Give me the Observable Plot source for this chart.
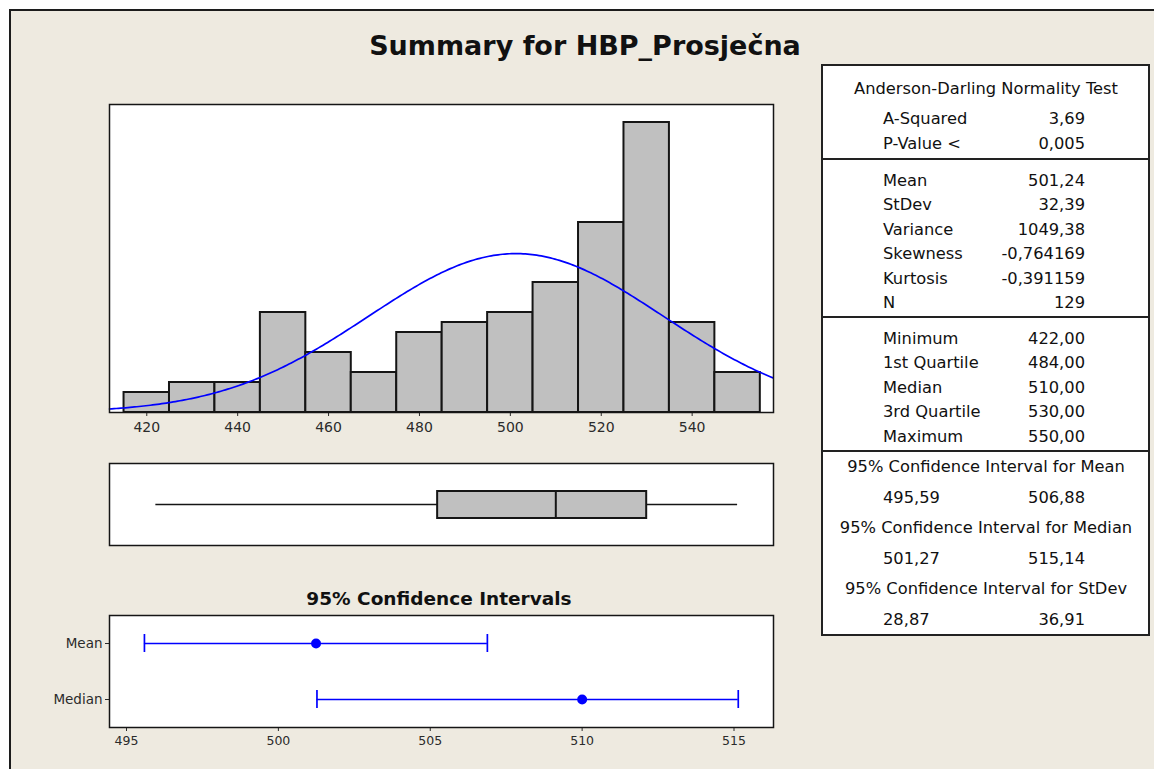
<!DOCTYPE html>
<html>
<head>
<meta charset="utf-8">
<script src="https://cdn.jsdelivr.net/npm/d3@7"></script>
<script src="https://cdn.jsdelivr.net/npm/@observablehq/plot@0.6"></script>
<style>
  body { margin: 0; background: #ffffff; }
  #root { position: relative; width: 1154px; height: 769px; overflow: hidden; background: #ffffff;
          font-family: "DejaVu Sans", Verdana, sans-serif; color: #111; }
  #panel { position: absolute; left: 9px; top: 9px; width: 1145px; height: 760px; box-sizing: border-box;
           background: #EEEAE0; border-left: 2px solid #1c1c1c; border-top: 2px solid #1c1c1c; }
  .txt { position: absolute; white-space: nowrap; line-height: 1; }
  #table { position: absolute; left: 821px; top: 64px; width: 329px; height: 572px; box-sizing: border-box;
           background: #ffffff; border: 2px solid #222; }
  .sep { position: absolute; left: 821px; width: 329px; height: 2px; background: #222; }
  svg.plot { position: absolute; left: 0; }
</style>
</head>
<body>
<div id="root"><div id="panel"></div><div id="table"></div></div>
<script>
// ---------------- data ----------------
const binStarts = [415, 425, 435, 445, 455, 465, 475, 485, 495, 505, 515, 525, 535, 545];
const binCounts = [2, 3, 3, 10, 6, 4, 8, 9, 10, 13, 19, 29, 9, 4];
const binWidth = 10;
const histTicks = [420, 440, 460, 480, 500, 520, 540];
const histDomain = [411.8, 557.9];

const sampleMean = 501.24;
const sampleStDev = 32.39;
const sampleN = 129;

const boxName = ["HBP_Prosječna"];
const boxMin = [422];
const boxQ1 = [484];
const boxMedian = [510];
const boxQ3 = [530];
const boxMax = [550];

const ciStats = ["Mean", "Median"];
const ciEstimate = [501.24, 510.0];
const ciLow = [495.59, 501.27];
const ciHigh = [506.88, 515.14];
const ciTicks = [495, 500, 505, 510, 515];
const ciDomain = [494.44, 516.3];

const adTitle = "Anderson-Darling Normality Test";
const adLabels = ["A-Squared", "P-Value <"];
const adValues = ["3,69", "0,005"];
const momentLabels = ["Mean", "StDev", "Variance", "Skewness", "Kurtosis", "N"];
const momentValues = ["501,24", "32,39", "1049,38", "-0,764169", "-0,391159", "129"];
const quantLabels = ["Minimum", "1st Quartile", "Median", "3rd Quartile", "Maximum"];
const quantValues = ["422,00", "484,00", "510,00", "530,00", "550,00"];
const ciHeadings = ["95% Confidence Interval for Mean", "95% Confidence Interval for Median", "95% Confidence Interval for StDev"];
const ciLowText = ["495,59", "501,27", "28,87"];
const ciHighText = ["506,88", "515,14", "36,91"];

const titleText = "Summary for HBP_Prosječna";
const ciTitleText = "95% Confidence Intervals";

// ---------------- helpers ----------------
const root = document.getElementById("root");
function addText(x, y, text, align, size, weight) {
  const s = document.createElement("span");
  s.className = "txt";
  s.textContent = text;
  s.style.left = x + "px";
  s.style.top = y + "px";
  s.style.fontSize = size + "px";
  s.style.fontWeight = weight || "normal";
  const tx = align === "middle" ? "-50%" : align === "end" ? "-100%" : "0";
  s.style.transform = `translate(${tx}, -50%)`;
  root.appendChild(s);
}
function place(svg, top) {
  svg.classList.add("plot");
  svg.style.top = top + "px";
  root.appendChild(svg);
}
const BLUE = "#0000FF";
const INK = "#151515";
const baseStyle = { background: "transparent", fontFamily: "DejaVu Sans, Verdana, sans-serif", color: "#2b2b2b", overflow: "visible" };

// ---------------- titles ----------------
addText(585, 45, titleText, "middle", 27, "bold");
addText(439, 599, ciTitleText, "middle", 18.5, "bold");

// ---------------- histogram ----------------
const bins = binStarts.map((b, i) => ({ x0: b, x1: b + binWidth, count: binCounts[i] }));
const scaleFactor = sampleN * binWidth;
const curve = d3.range(histDomain[0], histDomain[1] + 0.01, 0.5).map(x => ({
  x,
  y: scaleFactor * Math.exp(-0.5 * ((x - sampleMean) / sampleStDev) ** 2) / (sampleStDev * Math.sqrt(2 * Math.PI))
}));

place(Plot.plot({
  width: 800, height: 355,
  marginLeft: 109, marginRight: 27, marginTop: 14, marginBottom: 33,
  style: { ...baseStyle, fontSize: "14px" },
  x: { domain: histDomain, ticks: histTicks, tickSize: 4, tickPadding: 6, label: null },
  y: { domain: [0, 30.8], axis: null },
  marks: [
    Plot.frame({ fill: "white" }),
    Plot.rectY(bins, { x1: "x0", x2: "x1", y: "count", fill: "#C0C0C0", stroke: INK, strokeWidth: 2, inset: 0 }),
    Plot.line(curve, { x: "x", y: "y", stroke: BLUE, strokeWidth: 1.7 }),
    Plot.frame({ stroke: INK, strokeWidth: 1.5 })
  ]
}), 90);

// ---------------- boxplot ----------------
const boxRows = boxName.map((name, i) => ({ name, min: boxMin[i], q1: boxQ1[i], med: boxMedian[i], q3: boxQ3[i], max: boxMax[i] }));
place(Plot.plot({
  width: 800, height: 100,
  marginLeft: 109, marginRight: 27, marginTop: 8, marginBottom: 10,
  style: baseStyle,
  x: { domain: histDomain, axis: null },
  y: { domain: boxName, axis: null, padding: 0 },
  marks: [
    Plot.frame({ fill: "white" }),
    Plot.ruleY(boxRows, { y: "name", x1: "min", x2: "max", stroke: INK, strokeWidth: 1.7 }),
    Plot.barX(boxRows, { y: "name", x1: "q1", x2: "q3", fill: "#C0C0C0", stroke: INK, strokeWidth: 2, insetTop: 28, insetBottom: 27 }),
    Plot.tickX(boxRows, { y: "name", x: "med", stroke: INK, strokeWidth: 2, insetTop: 28, insetBottom: 27 }),
    Plot.frame({ stroke: INK, strokeWidth: 1.5 })
  ]
}), 455);

// ---------------- confidence intervals ----------------
const ciRows = ciStats.map((stat, i) => ({ stat, est: ciEstimate[i], lo: ciLow[i], hi: ciHigh[i] }));
place(Plot.plot({
  width: 800, height: 150,
  marginLeft: 109, marginRight: 27, marginTop: 10, marginBottom: 28,
  style: { ...baseStyle, fontSize: "12.5px" },
  x: { domain: ciDomain, ticks: ciTicks, tickSize: 4, tickPadding: 5, label: null },
  y: { domain: ciStats, padding: 0, label: null },
  marks: [
    Plot.frame({ fill: "white" }),
    Plot.axisY({ tickSize: 4, tickPadding: 3, fontSize: 13.5, label: null }),
    Plot.ruleY(ciRows, { y: "stat", x1: "lo", x2: "hi", stroke: BLUE, strokeWidth: 1.7 }),
    Plot.tickX(ciRows, { y: "stat", x: "lo", stroke: BLUE, strokeWidth: 1.7, insetTop: 19, insetBottom: 19 }),
    Plot.tickX(ciRows, { y: "stat", x: "hi", stroke: BLUE, strokeWidth: 1.7, insetTop: 19, insetBottom: 19 }),
    Plot.dot(ciRows, { y: "stat", x: "est", r: 5, fill: BLUE, stroke: null }),
    Plot.frame({ stroke: INK, strokeWidth: 1.5 })
  ]
}), 605);

// ---------------- statistics table ----------------
const T = 16.3;       // table font size
const labelX = 883, valueX = 1085, centerX = 986;
[159, 317, 451].forEach(y => {
  const d = document.createElement("div");
  d.className = "sep";
  d.style.top = (y - 1) + "px";
  root.appendChild(d);
});
addText(centerX, 89, adTitle, "middle", T);
adLabels.forEach((l, i) => { addText(labelX, 119 + i * 25, l, "start", T); addText(valueX, 119 + i * 25, adValues[i], "end", T); });
momentLabels.forEach((l, i) => { addText(labelX, 181 + i * 24.4, l, "start", T); addText(valueX, 181 + i * 24.4, momentValues[i], "end", T); });
quantLabels.forEach((l, i) => { addText(labelX, 339 + i * 24.4, l, "start", T); addText(valueX, 339 + i * 24.4, quantValues[i], "end", T); });
ciHeadings.forEach((h, i) => {
  const y = 467 + i * 61;
  addText(centerX, y, h, "middle", T);
  addText(labelX, y + 31, ciLowText[i], "start", T);
  addText(valueX, y + 31, ciHighText[i], "end", T);
});
</script>
</body>
</html>
